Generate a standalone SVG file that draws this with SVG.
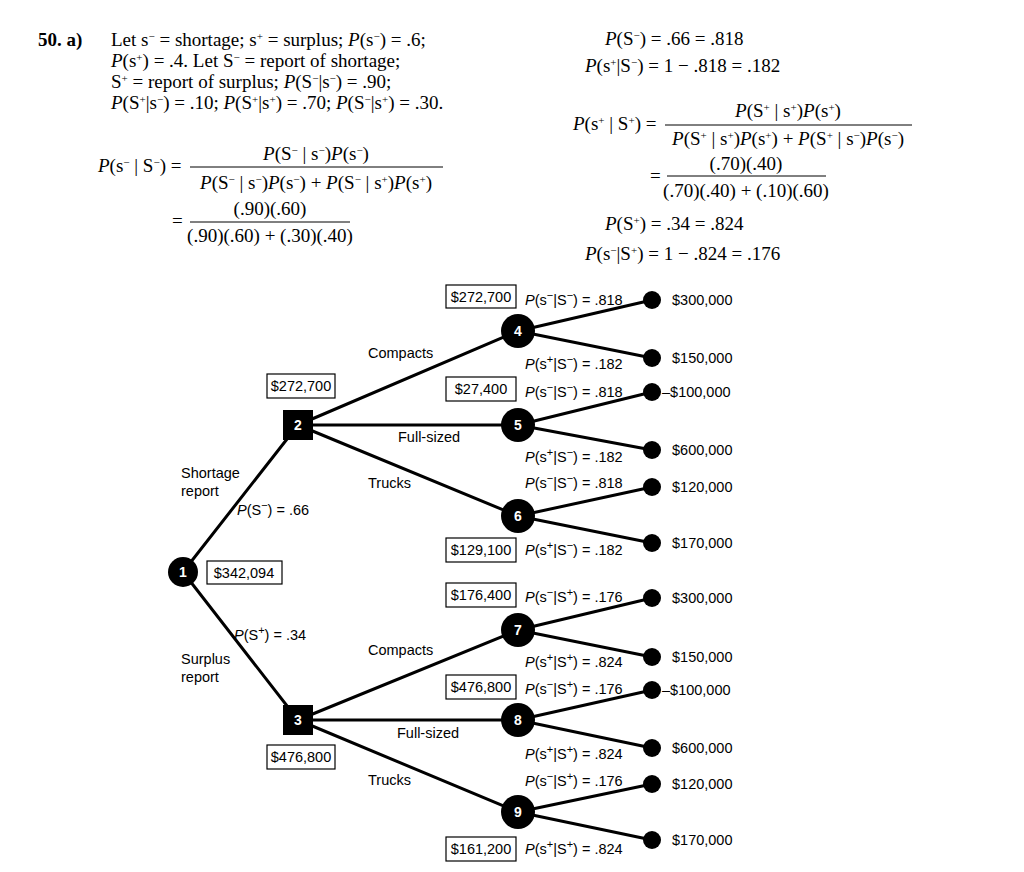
<svg xmlns="http://www.w3.org/2000/svg" width="1024" height="872" viewBox="0 0 1024 872">
<style>
.m{font-family:"Liberation Serif",serif;font-size:19px;fill:#000}
.s{font-family:"Liberation Sans",Arial,sans-serif;font-size:14.5px;fill:#000}
.n{font-family:"Liberation Sans",Arial,sans-serif;font-size:14px;font-weight:bold;fill:#fff;text-anchor:middle}
.e{stroke:#000;stroke-width:3;fill:none}
.b{fill:#fff;stroke:#000;stroke-width:1.2}
.fl{stroke:#000;stroke-width:1}
.sup{font-size:11px;baseline-shift:super}
</style>
<rect width="1024" height="872" fill="#fff"/>
<g id="text-left">
<text class="m" x="38" y="46" font-weight="bold">50. a)</text>
<text class="m" x="111" y="46">Let s<tspan class="sup">−</tspan> = shortage; s<tspan class="sup">+</tspan> = surplus; <tspan font-style="italic">P</tspan>(s<tspan class="sup">−</tspan>) = .6;</text>
<text class="m" x="111" y="67"><tspan font-style="italic">P</tspan>(s<tspan class="sup">+</tspan>) = .4. Let S<tspan class="sup">−</tspan> = report of shortage;</text>
<text class="m" x="111" y="88">S<tspan class="sup">+</tspan> = report of surplus; <tspan font-style="italic">P</tspan>(S<tspan class="sup">−</tspan>|s<tspan class="sup">−</tspan>) = .90;</text>
<text class="m" x="111" y="109"><tspan font-style="italic">P</tspan>(S<tspan class="sup">+</tspan>|s<tspan class="sup">−</tspan>) = .10; <tspan font-style="italic">P</tspan>(S<tspan class="sup">+</tspan>|s<tspan class="sup">+</tspan>) = .70; <tspan font-style="italic">P</tspan>(S<tspan class="sup">−</tspan>|s<tspan class="sup">+</tspan>) = .30.</text>
<text class="m" x="98" y="172"><tspan font-style="italic">P</tspan>(s<tspan class="sup">−</tspan> | S<tspan class="sup">−</tspan>) =</text>
<text class="m" x="316" y="160" text-anchor="middle"><tspan font-style="italic">P</tspan>(S<tspan class="sup">−</tspan> | s<tspan class="sup">−</tspan>)<tspan font-style="italic">P</tspan>(s<tspan class="sup">−</tspan>)</text>
<line class="fl" x1="190" y1="167" x2="443" y2="167"/>
<text class="m" x="316" y="189" text-anchor="middle"><tspan font-style="italic">P</tspan>(S<tspan class="sup">−</tspan> | s<tspan class="sup">−</tspan>)<tspan font-style="italic">P</tspan>(s<tspan class="sup">−</tspan>) + <tspan font-style="italic">P</tspan>(S<tspan class="sup">−</tspan> | s<tspan class="sup">+</tspan>)<tspan font-style="italic">P</tspan>(s<tspan class="sup">+</tspan>)</text>
<text class="m" x="172" y="227">=</text>
<text class="m" x="270" y="215" text-anchor="middle">(.90)(.60)</text>
<line class="fl" x1="190" y1="222" x2="350" y2="222"/>
<text class="m" x="270" y="242" text-anchor="middle">(.90)(.60) + (.30)(.40)</text>
</g>
<g id="text-right">
<text class="m" x="605" y="45"><tspan font-style="italic">P</tspan>(S<tspan class="sup">−</tspan>) = .66 = .818</text>
<text class="m" x="585" y="72"><tspan font-style="italic">P</tspan>(s<tspan class="sup">+</tspan>|S<tspan class="sup">−</tspan>) = 1 − .818 = .182</text>
<text class="m" x="573" y="130"><tspan font-style="italic">P</tspan>(s<tspan class="sup">+</tspan> | S<tspan class="sup">+</tspan>) =</text>
<text class="m" x="788" y="117" text-anchor="middle"><tspan font-style="italic">P</tspan>(S<tspan class="sup">+</tspan> | s<tspan class="sup">+</tspan>)<tspan font-style="italic">P</tspan>(s<tspan class="sup">+</tspan>)</text>
<line class="fl" x1="665" y1="125" x2="912" y2="125"/>
<text class="m" x="788" y="145" text-anchor="middle"><tspan font-style="italic">P</tspan>(S<tspan class="sup">+</tspan> | s<tspan class="sup">+</tspan>)<tspan font-style="italic">P</tspan>(s<tspan class="sup">+</tspan>) + <tspan font-style="italic">P</tspan>(S<tspan class="sup">+</tspan> | s<tspan class="sup">−</tspan>)<tspan font-style="italic">P</tspan>(s<tspan class="sup">−</tspan>)</text>
<text class="m" x="650" y="182">=</text>
<text class="m" x="746" y="170" text-anchor="middle">(.70)(.40)</text>
<line class="fl" x1="667" y1="176" x2="826" y2="176"/>
<text class="m" x="746" y="197" text-anchor="middle">(.70)(.40) + (.10)(.60)</text>
<text class="m" x="605" y="230"><tspan font-style="italic">P</tspan>(S<tspan class="sup">+</tspan>) = .34 = .824</text>
<text class="m" x="585" y="260"><tspan font-style="italic">P</tspan>(s<tspan class="sup">−</tspan>|S<tspan class="sup">+</tspan>) = 1 − .824 = .176</text>
</g>
<g id="connectors">
<path class="e" d="M183 572 L298 425 M183 572 L298 720"/>
<path class="e" d="M298 425 L518 331 M298 425 L518 425 M298 425 L518 516"/>
<path class="e" d="M298 720 L518 630 M298 720 L518 720 M298 720 L518 812"/>
<path class="e" d="M518 331 L652 300 M518 331 L652 358 M518 425 L652 392 M518 425 L652 450 M518 516 L652 487 M518 516 L652 543"/>
<path class="e" d="M518 630 L652 598 M518 630 L652 657 M518 720 L652 690 M518 720 L652 748 M518 812 L652 784 M518 812 L652 840"/>
</g>
<g id="n1"><circle cx="183" cy="572" r="15"/><text class="n" x="183" y="577">1</text></g>
<g id="n2"><rect x="283" y="410" width="30" height="30"/><text class="n" x="298" y="430">2</text></g>
<g id="n3"><rect x="283" y="705" width="30" height="30"/><text class="n" x="298" y="725">3</text></g>
<g id="n4"><circle cx="518" cy="331" r="17"/><text class="n" x="518" y="336">4</text></g>
<g id="n5"><circle cx="518" cy="425" r="17"/><text class="n" x="518" y="430">5</text></g>
<g id="n6"><circle cx="518" cy="516" r="17"/><text class="n" x="518" y="521">6</text></g>
<g id="n7"><circle cx="518" cy="630" r="17"/><text class="n" x="518" y="635">7</text></g>
<g id="n8"><circle cx="518" cy="720" r="17"/><text class="n" x="518" y="725">8</text></g>
<g id="n9"><circle cx="518" cy="812" r="17"/><text class="n" x="518" y="817">9</text></g>
<g id="terminals">
<circle cx="652" cy="300" r="9"/><circle cx="652" cy="358" r="9"/><circle cx="652" cy="392" r="9"/><circle cx="652" cy="450" r="9"/><circle cx="652" cy="487" r="9"/><circle cx="652" cy="543" r="9"/>
<circle cx="652" cy="598" r="9"/><circle cx="652" cy="657" r="9"/><circle cx="652" cy="690" r="9"/><circle cx="652" cy="748" r="9"/><circle cx="652" cy="784" r="9"/><circle cx="652" cy="840" r="9"/>
<text class="s" x="672" y="305">$300,000</text><text class="s" x="672" y="363">$150,000</text><text class="s" x="662" y="397">–$100,000</text><text class="s" x="672" y="455">$600,000</text><text class="s" x="672" y="492">$120,000</text><text class="s" x="672" y="548">$170,000</text>
<text class="s" x="672" y="603">$300,000</text><text class="s" x="672" y="662">$150,000</text><text class="s" x="662" y="695">–$100,000</text><text class="s" x="672" y="753">$600,000</text><text class="s" x="672" y="789">$120,000</text><text class="s" x="672" y="845">$170,000</text>
</g>
<g id="values">
<rect class="b" x="446" y="285" width="70" height="23"/><text class="s" x="481" y="302" text-anchor="middle">$272,700</text>
<rect class="b" x="267" y="374" width="68" height="24"/><text class="s" x="301" y="391" text-anchor="middle">$272,700</text>
<rect class="b" x="446" y="377" width="70" height="24"/><text class="s" x="481" y="394" text-anchor="middle">$27,400</text>
<rect class="b" x="446" y="538" width="70" height="24"/><text class="s" x="481" y="555" text-anchor="middle">$129,100</text>
<rect class="b" x="207" y="561" width="75" height="23"/><text class="s" x="244" y="578" text-anchor="middle">$342,094</text>
<rect class="b" x="446" y="583" width="70" height="24"/><text class="s" x="481" y="600" text-anchor="middle">$176,400</text>
<rect class="b" x="446" y="675" width="70" height="24"/><text class="s" x="481" y="692" text-anchor="middle">$476,800</text>
<rect class="b" x="267" y="745" width="68" height="24"/><text class="s" x="301" y="762" text-anchor="middle">$476,800</text>
<rect class="b" x="446" y="837" width="70" height="24"/><text class="s" x="481" y="854" text-anchor="middle">$161,200</text>
</g>
<g id="labels">
<text class="s" x="181" y="478">Shortage</text><text class="s" x="181" y="496">report</text>
<text class="s" x="237" y="515"><tspan font-style="italic">P</tspan>(S<tspan class="sup">−</tspan>) = .66</text>
<text class="s" x="234" y="640"><tspan font-style="italic">P</tspan>(S<tspan class="sup">+</tspan>) = .34</text>
<text class="s" x="181" y="664">Surplus</text><text class="s" x="181" y="682">report</text>
<text class="s" x="368" y="358">Compacts</text><text class="s" x="368" y="655">Compacts</text>
<text class="s" x="398" y="442">Full-sized</text><text class="s" x="397" y="738">Full-sized</text>
<text class="s" x="368" y="488">Trucks</text><text class="s" x="368" y="785">Trucks</text>
<text class="s" x="525" y="305"><tspan font-style="italic">P</tspan>(s<tspan class="sup">−</tspan>|S<tspan class="sup">−</tspan>) = .818</text>
<text class="s" x="525" y="369"><tspan font-style="italic">P</tspan>(s<tspan class="sup">+</tspan>|S<tspan class="sup">−</tspan>) = .182</text>
<text class="s" x="525" y="397"><tspan font-style="italic">P</tspan>(s<tspan class="sup">−</tspan>|S<tspan class="sup">−</tspan>) = .818</text>
<text class="s" x="525" y="462"><tspan font-style="italic">P</tspan>(s<tspan class="sup">+</tspan>|S<tspan class="sup">−</tspan>) = .182</text>
<text class="s" x="525" y="488"><tspan font-style="italic">P</tspan>(s<tspan class="sup">−</tspan>|S<tspan class="sup">−</tspan>) = .818</text>
<text class="s" x="525" y="555"><tspan font-style="italic">P</tspan>(s<tspan class="sup">+</tspan>|S<tspan class="sup">−</tspan>) = .182</text>
<text class="s" x="525" y="602"><tspan font-style="italic">P</tspan>(s<tspan class="sup">−</tspan>|S<tspan class="sup">+</tspan>) = .176</text>
<text class="s" x="525" y="667"><tspan font-style="italic">P</tspan>(s<tspan class="sup">+</tspan>|S<tspan class="sup">+</tspan>) = .824</text>
<text class="s" x="525" y="694"><tspan font-style="italic">P</tspan>(s<tspan class="sup">−</tspan>|S<tspan class="sup">+</tspan>) = .176</text>
<text class="s" x="525" y="759"><tspan font-style="italic">P</tspan>(s<tspan class="sup">+</tspan>|S<tspan class="sup">+</tspan>) = .824</text>
<text class="s" x="525" y="786"><tspan font-style="italic">P</tspan>(s<tspan class="sup">−</tspan>|S<tspan class="sup">+</tspan>) = .176</text>
<text class="s" x="525" y="854"><tspan font-style="italic">P</tspan>(s<tspan class="sup">+</tspan>|S<tspan class="sup">+</tspan>) = .824</text>
</g>
</svg>
